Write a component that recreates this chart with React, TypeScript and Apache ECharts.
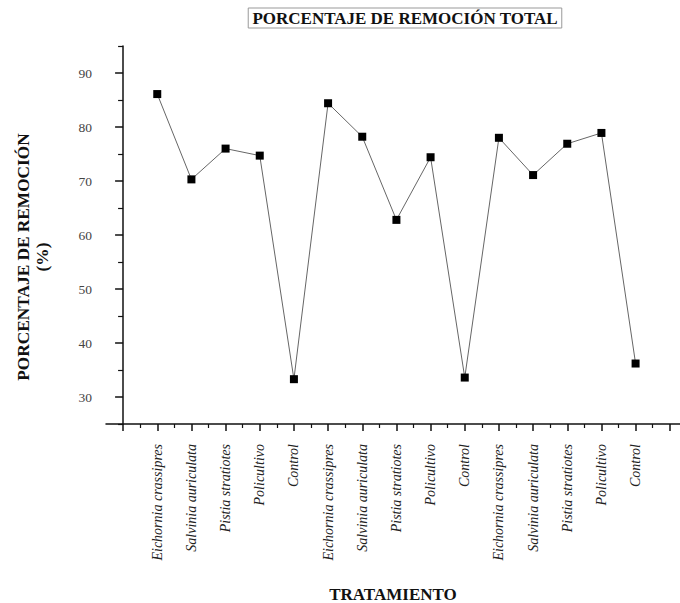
import React, { useEffect, useRef } from "react";
import * as echarts from "echarts";

const categories = [
  "Eichornia crassipres", "Salvinia auriculata", "Pistia stratiotes", "Policultivo", "Control",
  "Eichornia crassipres", "Salvinia auriculata", "Pistia stratiotes", "Policultivo", "Control",
  "Eichornia crassipres", "Salvinia auriculata", "Pistia stratiotes", "Policultivo", "Control",
];
const positions = [1, 2, 3, 4, 5, 6, 7, 8, 9, 10, 11, 12, 13, 14, 15];
const values = [86.1, 70.3, 76.0, 74.7, 33.3, 84.4, 78.2, 62.8, 74.4, 33.6, 78.0, 71.1, 76.9, 78.9, 36.2];

const xMajorTicks = [0, 1, 2, 3, 4, 5, 6, 7, 8, 9, 10, 11, 12, 13, 14, 15, 16];
const xMinorTicks = [0.5, 1.5, 2.5, 3.5, 4.5, 5.5, 6.5, 7.5, 8.5, 9.5, 10.5, 11.5, 12.5, 13.5, 14.5, 15.5];
const yMajorTicks = [30, 40, 50, 60, 70, 80, 90];
const yMinorTicks = [25, 35, 45, 55, 65, 75, 85, 95];

const SERIF = "'Liberation Serif', 'DejaVu Serif', serif";

export default function App() {
  const ref = useRef<HTMLDivElement>(null);
  useEffect(() => {
    if (!ref.current) return;
    const chart = echarts.init(ref.current, null, { renderer: "svg" });
    const axisLineStyle = { color: "#111", width: 1.5 };
    chart.setOption({
      animation: false,
      backgroundColor: "#fff",
      grid: { left: 106, right: 0, top: 46, bottom: 179, containLabel: false, outerBoundsMode: "none" },
      xAxis: [
        {
          type: "value",
          min: -0.5,
          max: 16.3,
          name: "TRATAMIENTO",
          nameLocation: "middle",
          nameGap: 162,
          nameTextStyle: { fontFamily: SERIF, fontWeight: "bold", fontSize: 17, lineHeight: 16, color: "#111" },
          axisLine: { show: true, lineStyle: axisLineStyle },
          axisTick: { show: true, inside: false, length: 7, customValues: xMajorTicks, lineStyle: { color: "#111", width: 1.5 } },
          axisLabel: {
            show: true,
            customValues: positions,
            rotate: 90,
            margin: 20,
            fontFamily: SERIF,
            fontStyle: "italic",
            fontSize: 14,
            color: "#222",
            formatter: (v: number) => {
              const i = positions.indexOf(v);
              return i >= 0 ? categories[i] : "";
            },
          },
          splitLine: { show: false },
        },
        {
          type: "value",
          min: -0.5,
          max: 16.3,
          position: "bottom",
          axisLine: { show: false },
          axisTick: { show: true, inside: false, length: 4, customValues: xMinorTicks, lineStyle: { color: "#111", width: 1.2 } },
          axisLabel: { show: false },
          splitLine: { show: false },
        },
      ],
      yAxis: [
        {
          type: "value",
          min: 25,
          max: 95,
          axisLine: { show: true, lineStyle: axisLineStyle },
          axisTick: { show: true, inside: false, length: 8, customValues: yMajorTicks, lineStyle: { color: "#111", width: 1.5 } },
          axisLabel: {
            show: true,
            customValues: yMajorTicks,
            margin: 14,
            fontFamily: SERIF,
            fontSize: 13.5,
            color: "#444",
          },
          splitLine: { show: false },
        },
        {
          type: "value",
          min: 25,
          max: 95,
          position: "left",
          axisLine: { show: false },
          axisTick: { show: true, inside: false, length: 5, customValues: yMinorTicks, lineStyle: { color: "#111", width: 1.2 } },
          axisLabel: { show: false },
          splitLine: { show: false },
        },
      ],
      graphic: [
        {
          type: "text",
          x: 405,
          y: 18,
          style: {
            text: "PORCENTAJE DE REMOCIÓN TOTAL",
            fontFamily: SERIF,
            fontWeight: "bold",
            fontSize: 17,
            fill: "#111",
            textAlign: "center",
            textVerticalAlign: "middle",
            borderColor: "#999",
            borderWidth: 1,
            padding: [2, 4, 1, 4],
          },
        },
        {
          type: "text",
          x: 33,
          y: 257,
          rotation: Math.PI / 2,
          style: {
            text: "PORCENTAJE DE REMOCIÓN\n(%)",
            fontFamily: SERIF,
            fontWeight: "bold",
            fontSize: 17.3,
            lineHeight: 19,
            fill: "#111",
            textAlign: "center",
            textVerticalAlign: "middle",
          },
        },
      ],
      series: [
        {
          type: "line",
          xAxisIndex: 0,
          yAxisIndex: 0,
          data: positions.map((p, i) => [p, values[i]]),
          symbol: "rect",
          symbolSize: 8,
          showSymbol: true,
          lineStyle: { color: "#666", width: 1 },
          itemStyle: { color: "#000" },
          z: 3,
        },
      ],
    });
    return () => chart.dispose();
  }, []);
  return (
    <div
      ref={ref}
      style={{ position: "absolute", left: 0, top: 0, width: 680, height: 603 }}
    />
  );
}
